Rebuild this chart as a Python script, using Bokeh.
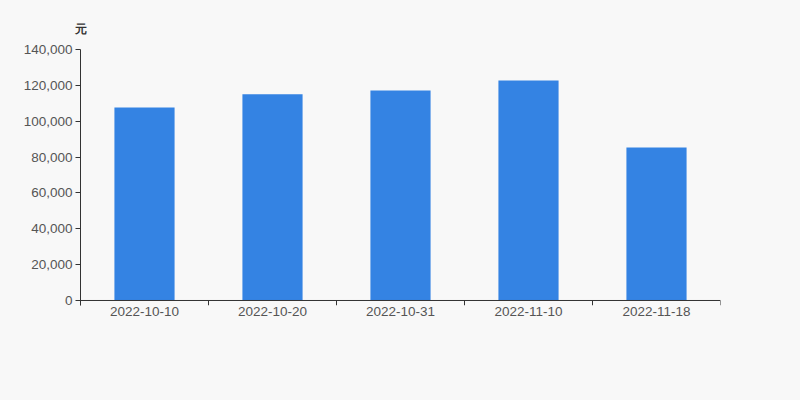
from bokeh.plotting import figure
from bokeh.models import ColumnDataSource, FixedTicker, NumeralTickFormatter, Range1d, Title, Span
from bokeh.embed import file_html
from bokeh.resources import INLINE

dates = ["2022-10-10", "2022-10-20", "2022-10-31", "2022-11-10", "2022-11-18"]
values = [107600, 115000, 117200, 122700, 85300]
y_ticks = [0, 20000, 40000, 60000, 80000, 100000, 120000, 140000]
unit = "元"

BG = "#f8f8f8"
FONT = "Liberation Sans"
AX = "#333333"

src = ColumnDataSource(dict(x=dates, top=values))

p = figure(x_range=dates, width=800, height=400, output_backend="svg",
           toolbar_location=None, background_fill_color=BG, border_fill_color=BG,
           min_border_left=80, min_border_right=80, min_border_top=49, min_border_bottom=95)
# small negative start so boundary ticks show below the zero line
p.y_range = Range1d(-2790, 140000)
p.x_range.range_padding = 0

p.vbar(x="x", top="top", width=0.47, source=src, color="#3483e3", line_color=None)

p.grid.visible = False
p.outline_line_color = None

t = Title(text=unit, text_font=FONT, text_font_size="12px", text_font_style="bold",
          text_color=AX, align="left", offset=-6, standoff=27)
p.add_layout(t, "above")
p.title.visible = False

p.yaxis.ticker = FixedTicker(ticks=y_ticks)
p.yaxis.formatter = NumeralTickFormatter(format="0,0")
p.yaxis.minor_tick_line_color = None
p.yaxis.major_tick_in = 0
p.yaxis.major_tick_out = 5
p.yaxis.axis_line_color = AX
p.yaxis.major_tick_line_color = AX
p.yaxis.major_label_text_font = FONT
p.yaxis.major_label_text_font_size = "13.5px"
p.yaxis.major_label_text_color = "#555555"
p.yaxis.major_label_standoff = 3

p.xaxis.axis_line_color = None
p.xaxis.major_tick_line_color = None
p.xaxis.major_tick_in = 0
p.xaxis.major_tick_out = 0
p.xaxis.major_label_text_font = FONT
p.xaxis.major_label_text_font_size = "13.5px"
p.xaxis.major_label_text_color = "#555555"
p.xaxis.major_label_standoff = 1

# x axis line at zero
p.add_layout(Span(location=0, dimension="width", line_color=AX, line_width=1))

# boundary ticks between categories
n = len(dates)
bx = [(dates[i], -0.5) for i in range(n)] + [(dates[n - 1], 0.5)]
src_t = ColumnDataSource(dict(x0=bx, x1=bx))
p.segment(x0="x0", x1="x1", y0=0, y1=-2790, source=src_t, line_color=AX, line_width=1)

html = file_html(p, INLINE)
html = html.replace("<head>", "<head><style>body{background:%s;}</style>" % BG, 1)
open("out.html", "w").write(html)
